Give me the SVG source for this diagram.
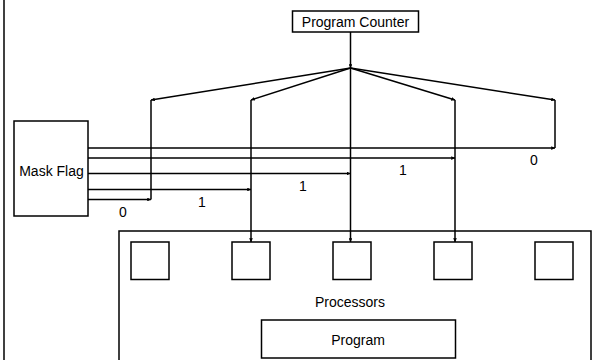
<svg xmlns="http://www.w3.org/2000/svg" width="592" height="360" viewBox="0 0 592 360">
<defs>
<style>
.box{fill:#fff;stroke:#000;stroke-width:1.5}
.ln{fill:none;stroke:#000;stroke-width:1.5;marker-end:url(#ah)}
.pl{fill:none;stroke:#000;stroke-width:1.5}
text{font-family:"Liberation Sans",Arial,sans-serif;font-size:14px;fill:#000;text-anchor:middle}
</style>
<marker id="ah" viewBox="0 0 6 6" refX="6" refY="3" markerWidth="2.5" markerHeight="2.5" orient="auto" markerUnits="strokeWidth">
<path d="M0,0 L6,3 L0,6 Z" fill="#000"/>
</marker>
</defs>
<rect width="592" height="360" fill="#fff"/>
<line x1="4" y1="0" x2="4" y2="360" class="pl"/>
<g id="processors">
<rect x="119" y="231" width="472" height="135" class="box"/>
<text x="350" y="307">Processors</text>
</g>
<g id="p1"><rect x="131" y="242" width="38" height="37.5" class="box"/></g>
<g id="p2"><rect x="232" y="242" width="38" height="37.5" class="box"/></g>
<g id="p3"><rect x="333" y="242" width="38" height="37.5" class="box"/></g>
<g id="p4"><rect x="434" y="242" width="38" height="37.5" class="box"/></g>
<g id="p5"><rect x="535" y="242" width="38" height="37.5" class="box"/></g>
<g id="program">
<rect x="261.5" y="320" width="194" height="38" class="box"/>
<text x="358" y="345">Program</text>
</g>
<g id="pc">
<rect x="292.5" y="11" width="126" height="21" class="box"/>
<text x="355.5" y="27">Program Counter</text>
</g>
<g id="mask">
<rect x="14" y="121" width="74" height="95" class="box"/>
<text x="51.5" y="176">Mask Flag</text>
</g>
<g id="connectors">
<line x1="350.5" y1="32" x2="350.5" y2="68" class="ln"/>
<line x1="350.5" y1="68" x2="151" y2="100" class="ln"/>
<line x1="350.5" y1="68" x2="251" y2="100" class="ln"/>
<line x1="350.5" y1="68" x2="455" y2="100" class="ln"/>
<line x1="350.5" y1="68" x2="555" y2="100" class="ln"/>
<line x1="151" y1="100" x2="151" y2="199.5" class="pl"/>
<line x1="251" y1="100" x2="251" y2="242" class="ln"/>
<line x1="350.5" y1="68" x2="350.5" y2="242" class="ln"/>
<line x1="455" y1="100" x2="455" y2="242" class="ln"/>
<line x1="555" y1="100" x2="555" y2="148" class="pl"/>
<line x1="88" y1="148" x2="555" y2="148" class="ln"/>
<line x1="88" y1="158" x2="455" y2="158" class="ln"/>
<line x1="88" y1="173.5" x2="350.5" y2="173.5" class="ln"/>
<line x1="88" y1="189.5" x2="251" y2="189.5" class="ln"/>
<line x1="88" y1="199.5" x2="151" y2="199.5" class="ln"/>
<text x="123" y="217">0</text>
<text x="202" y="207">1</text>
<text x="303" y="191">1</text>
<text x="403" y="175">1</text>
<text x="534" y="165">0</text>
</g>
</svg>
